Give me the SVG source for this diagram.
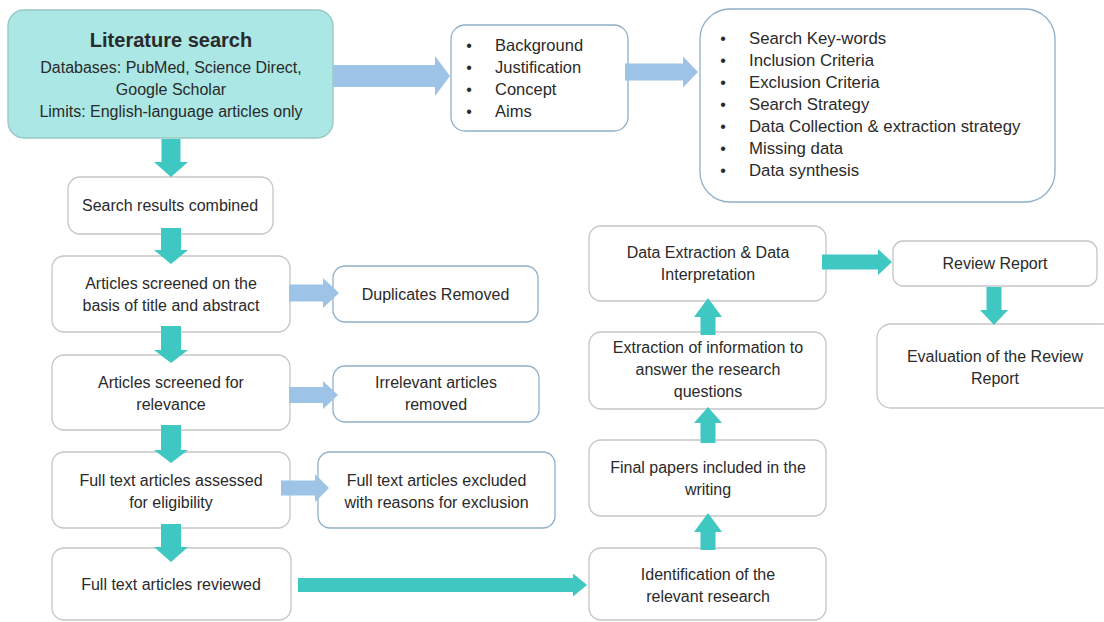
<svg xmlns="http://www.w3.org/2000/svg" width="1104" height="622" viewBox="0 0 1104 622">
<style>
.t{font-family:"Liberation Sans",Arial,sans-serif;font-size:16px;fill:#2a2a2a;text-anchor:middle}
.l{font-family:"Liberation Sans",Arial,sans-serif;font-size:16.5px;fill:#2a2a2a}
.l2{font-family:"Liberation Sans",Arial,sans-serif;font-size:16.8px;fill:#2a2a2a}
.b{font-family:"Liberation Sans",Arial,sans-serif;font-size:16px;fill:#2a2a2a;text-anchor:middle}
.g{fill:#ffffff;stroke:#c6c6c6;stroke-width:1.3}
.bl{fill:#ffffff;stroke:#8fb0c8;stroke-width:1.3}
.teal{fill:#3fc8c2}
.lb{fill:#9dc3e6}
</style>
<rect width="1104" height="622" fill="#ffffff"/>
<g id="lit-search">
<rect x="8" y="10" width="325" height="128" rx="16" fill="#abe7e4" stroke="#97c6c4" stroke-width="1.3"/>
<text class="t" x="171" y="47" style="font-weight:bold;font-size:20px">Literature search</text>
<text class="t" x="171" y="73">Databases: PubMed, Science Direct,</text>
<text class="t" x="171" y="95">Google Scholar</text>
<text class="t" x="171" y="117">Limits: English-language articles only</text>
</g>
<g id="background-box">
<rect class="bl" x="451" y="25" width="177" height="106" rx="14"/>
<text class="b" x="469" y="51">•</text><text class="l" x="495" y="51">Background</text>
<text class="b" x="469" y="73">•</text><text class="l" x="495" y="73">Justification</text>
<text class="b" x="469" y="95">•</text><text class="l" x="495" y="95">Concept</text>
<text class="b" x="469" y="117">•</text><text class="l" x="495" y="117">Aims</text>
</g>
<g id="protocol-box">
<rect class="bl" x="700" y="9" width="355" height="193" rx="30"/>
<text class="b" x="723" y="44">•</text><text class="l2" x="749" y="44">Search Key-words</text>
<text class="b" x="723" y="66">•</text><text class="l2" x="749" y="66">Inclusion Criteria</text>
<text class="b" x="723" y="88">•</text><text class="l2" x="749" y="88">Exclusion Criteria</text>
<text class="b" x="723" y="110">•</text><text class="l2" x="749" y="110">Search Strategy</text>
<text class="b" x="723" y="132">•</text><text class="l2" x="749" y="132">Data Collection &amp; extraction strategy</text>
<text class="b" x="723" y="154">•</text><text class="l2" x="749" y="154">Missing data</text>
<text class="b" x="723" y="176">•</text><text class="l2" x="749" y="176">Data synthesis</text>
</g>
<g id="search-results">
<rect class="g" x="68" y="177" width="205" height="57" rx="12"/>
<text class="t" x="170" y="211">Search results combined</text>
</g>
<g id="screened-title">
<rect class="g" x="52" y="256" width="238" height="76" rx="12"/>
<text class="t" x="171" y="289">Articles screened on the</text>
<text class="t" x="171" y="311">basis of title and abstract</text>
</g>
<g id="duplicates">
<rect class="bl" x="333" y="266" width="205" height="56" rx="12"/>
<text class="t" x="435.5" y="300">Duplicates Removed</text>
</g>
<g id="screened-relevance">
<rect class="g" x="52" y="355" width="238" height="75" rx="12"/>
<text class="t" x="171" y="388">Articles screened for</text>
<text class="t" x="171" y="410">relevance</text>
</g>
<g id="irrelevant">
<rect class="bl" x="333" y="366" width="206" height="56" rx="12"/>
<text class="t" x="436" y="388">Irrelevant articles</text>
<text class="t" x="436" y="410">removed</text>
</g>
<g id="assessed">
<rect class="g" x="52" y="452" width="238" height="76" rx="12"/>
<text class="t" x="171" y="486">Full text articles assessed</text>
<text class="t" x="171" y="508">for eligibility</text>
</g>
<g id="excluded">
<rect class="bl" x="318" y="452" width="237" height="76" rx="12"/>
<text class="t" x="436.5" y="486">Full text articles excluded</text>
<text class="t" x="436.5" y="508">with reasons for exclusion</text>
</g>
<g id="reviewed">
<rect class="g" x="52" y="548" width="239" height="72" rx="12"/>
<text class="t" x="171" y="590">Full text articles reviewed</text>
</g>
<g id="identification">
<rect class="g" x="589" y="548" width="237" height="72" rx="12"/>
<text class="t" x="708" y="580">Identification of the</text>
<text class="t" x="708" y="602">relevant research</text>
</g>
<g id="final-papers">
<rect class="g" x="589" y="440" width="237" height="76" rx="12"/>
<text class="t" x="708" y="473">Final papers included in the</text>
<text class="t" x="708" y="495">writing</text>
</g>
<g id="extraction-info">
<rect class="g" x="589" y="332" width="237" height="77" rx="12"/>
<text class="t" x="708" y="353">Extraction of information to</text>
<text class="t" x="708" y="375">answer the research</text>
<text class="t" x="708" y="397">questions</text>
</g>
<g id="data-extraction">
<rect class="g" x="589" y="226" width="237" height="75" rx="12"/>
<text class="t" x="708" y="258">Data Extraction &amp; Data</text>
<text class="t" x="708" y="280">Interpretation</text>
</g>
<g id="review-report">
<rect class="g" x="893" y="241" width="204" height="45" rx="10"/>
<text class="t" x="995" y="269">Review Report</text>
</g>
<g id="evaluation">
<rect class="g" x="877" y="324" width="240" height="84" rx="14"/>
<text class="t" x="995" y="362">Evaluation of the Review</text>
<text class="t" x="995" y="384">Report</text>
</g>
<g id="connectors">
<polygon class="lb" points="333,65 435,65 435,56 450,76 435,96 435,87 333,87"/>
<polygon class="lb" points="625,63.5 683,63.5 683,56.5 698,72 683,87.5 683,80.5 625,80.5"/>
<polygon class="lb" points="289,284.5 323,284.5 323,278 339,293 323,308 323,301.5 289,301.5"/>
<polygon class="lb" points="289,387 323,387 323,381 338,395 323,409 323,403 289,403"/>
<polygon class="lb" points="281,480.5 315,480.5 315,474 329,488 315,502 315,495.5 281,495.5"/>
<polygon class="teal" points="161.5,139 180.5,139 180.5,162 188,162 171,177 154,162 161.5,162"/>
<polygon class="teal" points="161,228 181,228 181,250 188,250 171,264 154,250 161,250"/>
<polygon class="teal" points="161,326 181,326 181,350 188,350 171,363 154,350 161,350"/>
<polygon class="teal" points="161,425 181,425 181,450 188,450 171,463 154,450 161,450"/>
<polygon class="teal" points="161,524 181,524 181,547 188,547 171,562 154,547 161,547"/>
<polygon class="teal" points="298,578 573,578 573,573.5 587,585 573,596.5 573,592 298,592"/>
<polygon class="teal" points="700.5,550 700.5,532 694,532 708,513 722,532 715.5,532 715.5,550"/>
<polygon class="teal" points="700.5,443 700.5,423 694,423 708,407 722,423 715.5,423 715.5,443"/>
<polygon class="teal" points="700.5,335 700.5,317 694,317 708,298 722,317 715.5,317 715.5,335"/>
<polygon class="teal" points="822,254.5 878,254.5 878,249 892,262 878,275 878,269.5 822,269.5"/>
<polygon class="teal" points="986.5,287 1001.5,287 1001.5,310 1008,310 994,325 980,310 986.5,310"/>
</g>
</svg>
